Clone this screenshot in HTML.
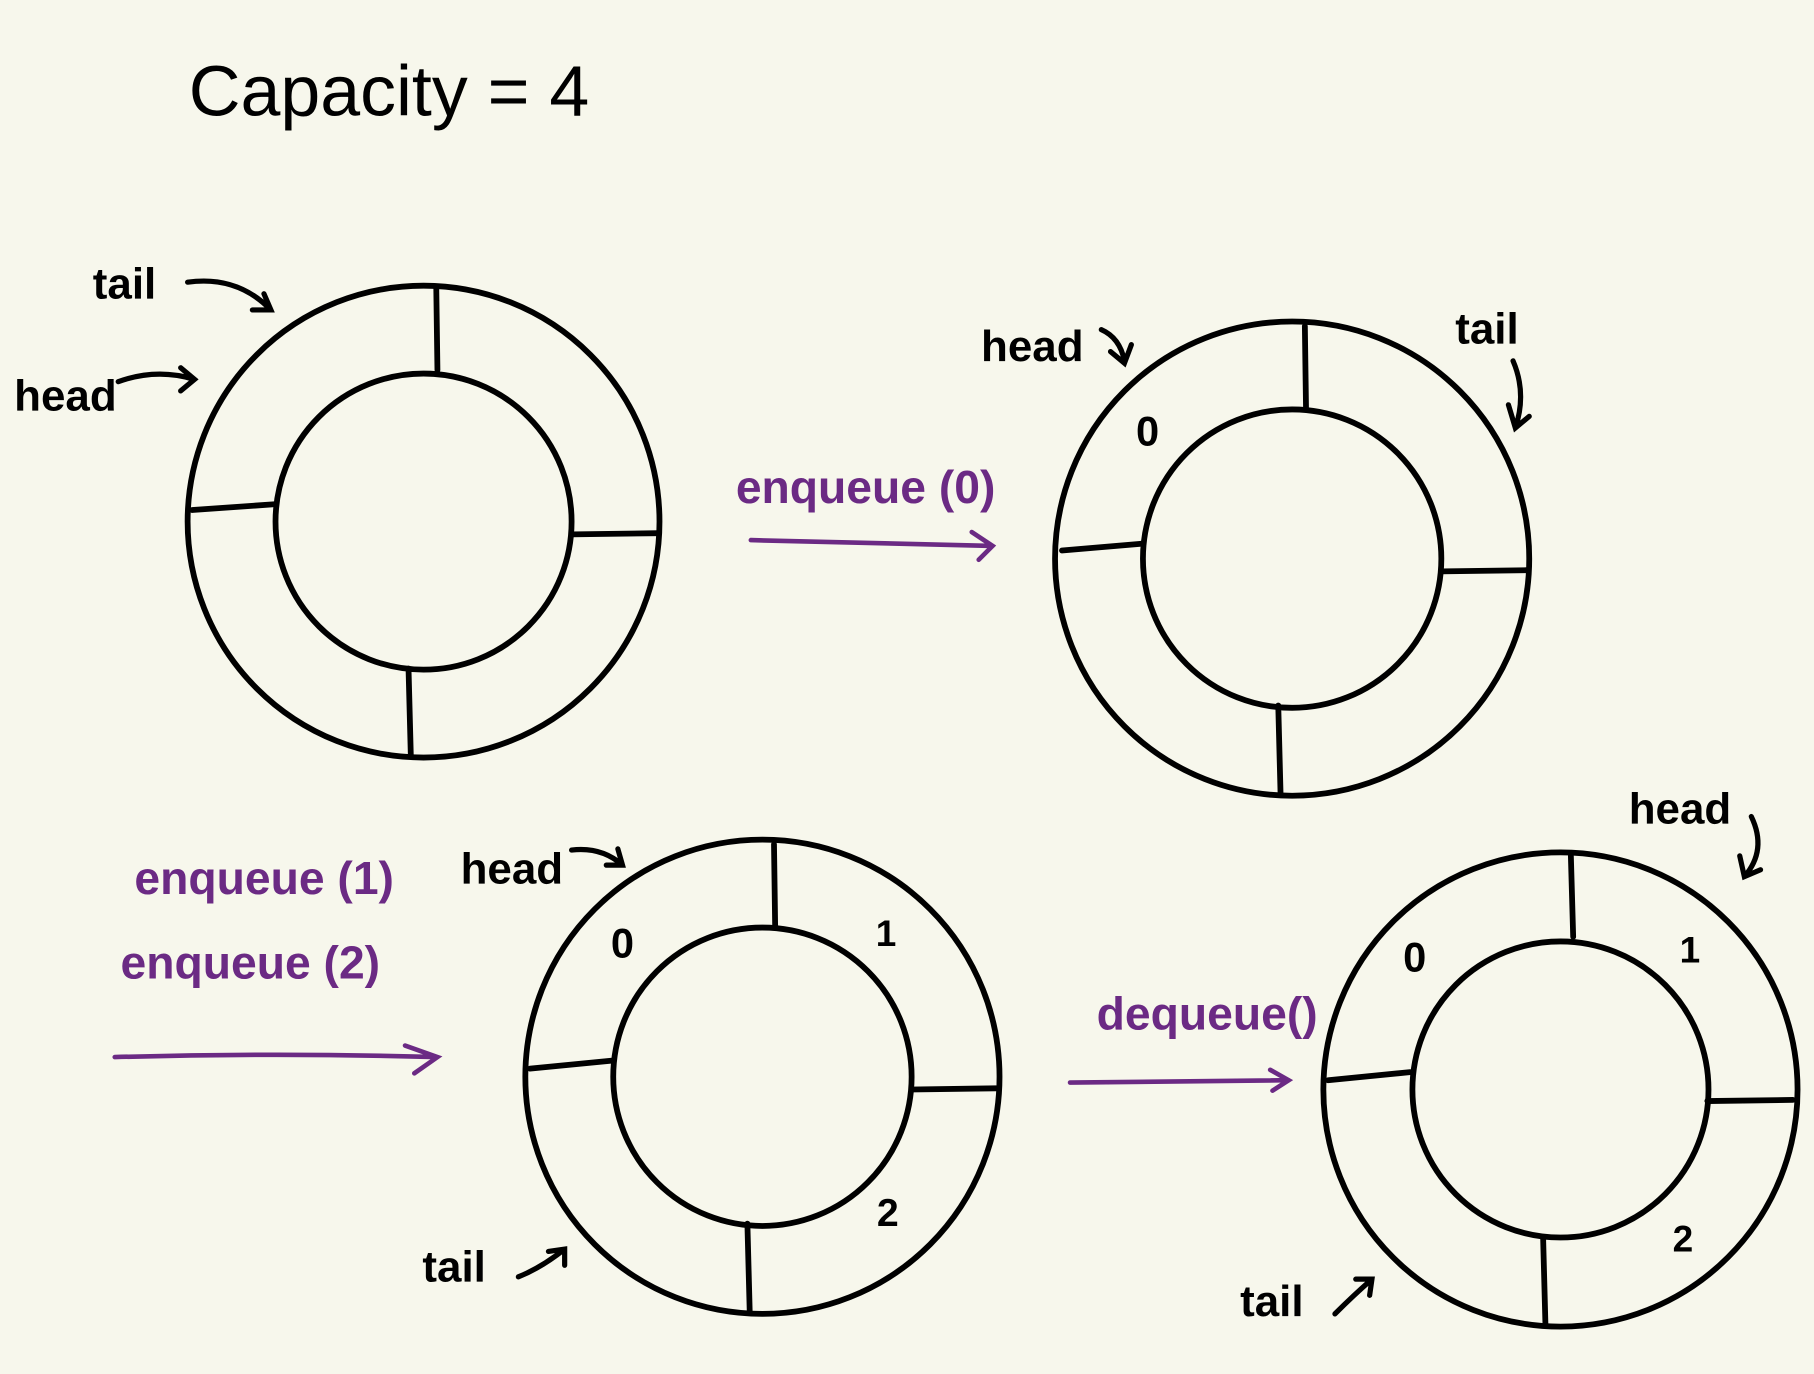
<!DOCTYPE html>
<html><head><meta charset="utf-8"><style>
html,body{margin:0;padding:0;background:#f7f7ec;}
svg{display:block}
text{font-family:"Liberation Sans",sans-serif;}
</style></head><body>
<svg width="1814" height="1374" viewBox="0 0 1568 1188" xmlns="http://www.w3.org/2000/svg">
<rect width="1568" height="1188" fill="#f7f7ec"/>
<text x="163" y="100" font-size="62" fill="#000">Capacity = 4</text>
<g id="rings" fill="none" stroke="#000" stroke-width="5" stroke-linecap="round"></g>
<g font-size="38" font-weight="bold" fill="#000">
<text x="80" y="258">tail</text>
<text x="12" y="355">head</text>
<text x="848" y="312">head</text>
<text x="1258" y="297">tail</text>
<text x="398" y="764">head</text>
<text x="365" y="1108">tail</text>
<text x="1408" y="712">head</text>
<text x="1072" y="1138">tail</text>
<text x="982" y="385" font-size="36">0</text>
<text x="528" y="828" font-size="36">0</text>
<text x="757" y="818" font-size="32">1</text>
<text x="758" y="1060" font-size="34">2</text>
<text x="1213" y="840" font-size="36">0</text>
<text x="1452" y="832" font-size="32">1</text>
<text x="1446" y="1082" font-size="32">2</text>
</g>
<g font-size="40" font-weight="bold" fill="#6b2a84">
<text x="636" y="435">enqueue (0)</text>
<text x="116" y="773">enqueue (1)</text>
<text x="104" y="846">enqueue (2)</text>
<text x="948" y="890">dequeue()</text>
</g>
<g fill="none" stroke="#6b2a84" stroke-width="4" stroke-linecap="round">
<path d="M649 467 Q760 470 858 472 M840 460 L858 472 L846 484"/>
<path d="M99 914 Q240 910 378 914 M350 904 L378 914 L358 928"/>
<path d="M925 936 L1114 934 M1098 925 L1114 934 L1100 943"/>
</g>
<g fill="none" stroke="#000" stroke-width="4.5" stroke-linecap="round">
<path d="M162 244 Q205 238 234 268 M218 268 L234 268 L228 254"/>
<path d="M102 330 Q135 318 168 328 M156 318 L168 328 L156 338"/>
<path d="M952 285 Q968 292 972 312 M960 304 L972 314 L978 298"/>
<path d="M1308 312 Q1320 340 1310 370 M1304 350 L1310 370 L1322 360"/>
<path d="M494 735 Q520 732 538 748 M524 748 L538 748 L534 734"/>
<path d="M448 1104 Q468 1096 488 1080 M474 1082 L488 1080 L488 1094"/>
<path d="M1514 706 Q1528 735 1508 758 M1504 740 L1508 758 L1522 752"/>
<path d="M1154 1136 Q1170 1120 1186 1106 M1172 1106 L1186 1106 L1184 1120"/>
</g>
<script>
const centersX=[366,1117,659,1349];
const centersY=[451,483,931,942];
const outerR=[204,205,205,205];
const innerR=[128,129,129,128];
const g=document.getElementById('rings');
const NS='http://www.w3.org/2000/svg';
const divs=[
 [[377,249,378,320],[494,462,569,461],[353,578,355,654],[166,441,237,436]],
 [[1128,282,1129,353],[1246,494,1320,493],[1105,610,1107,687],[918,476,988,470]],
 [[669,730,670,801],[788,942,861,941],[646,1058,648,1134],[458,924,529,917]],
 [[1358,740,1360,810],[1476,952,1550,951],[1334,1070,1336,1145],[1148,934,1219,927]]
];
for(let i=0;i<4;i++){
 for(const r of [outerR[i],innerR[i]]){
  const c=document.createElementNS(NS,'circle');
  
  
  c.setAttribute('cx',centersX[i]);c.setAttribute('cy',centersY[i]);c.setAttribute('r',r);
  g.appendChild(c);
 }
 for(const d of divs[i]){
  const l=document.createElementNS(NS,'line');
  
  
  l.setAttribute('x1',d[0]);l.setAttribute('y1',d[1]);l.setAttribute('x2',d[2]);l.setAttribute('y2',d[3]);
  g.appendChild(l);
 }
}
</script>
</svg>
</body></html>
